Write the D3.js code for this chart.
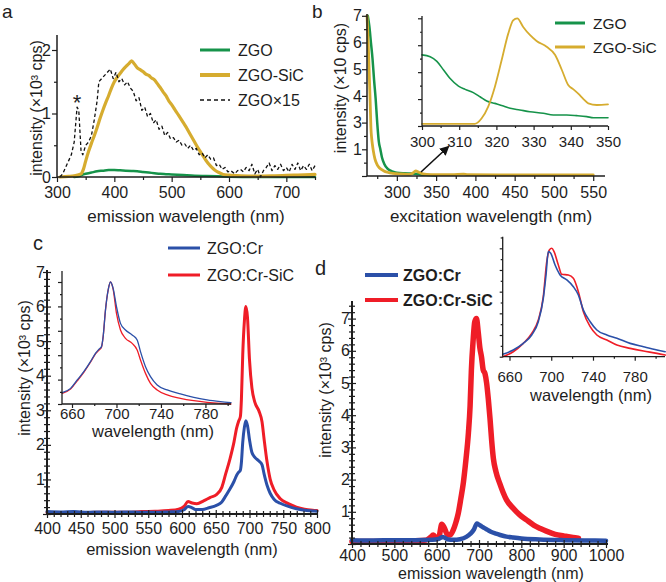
<!DOCTYPE html>
<html><head><meta charset="utf-8">
<script src="https://cdn.jsdelivr.net/npm/d3@7"></script>
<style>
body{margin:0;background:#fff}
svg{display:block}
</style>
</head><body>
<svg id="fig" width="666" height="582"></svg>
<script>
// ---------------- DATA ----------------
// panel a : emission (x10^3 cps)
const aTicksX = [300, 400, 500, 600, 700];
const aTicksY = [0, 1, 2];
const aZgo = [[330,0.0],[340,0.02],[345,0.04],[350,0.05],[360,0.07],[370,0.09],[380,0.1],[390,0.11],[400,0.11],[410,0.105],[420,0.1],[430,0.095],[440,0.09],[450,0.08],[460,0.07],[470,0.06],[480,0.05],[490,0.045],[500,0.04],[520,0.03],[540,0.02],[560,0.015],[580,0.01],[600,0.005],[650,0.0],[700,0.0],[750,0.0]];
const aZgoSic = [[305,0],[320,0.01],[330,0.02],[342,0.05],[346,0.12],[350,0.25],[355,0.4],[360,0.53],[365,0.65],[370,0.78],[375,0.92],[380,1.05],[385,1.17],[390,1.28],[395,1.4],[400,1.5],[405,1.57],[410,1.63],[415,1.69],[420,1.74],[425,1.78],[430,1.83],[435,1.78],[440,1.72],[445,1.69],[450,1.66],[455,1.62],[460,1.6],[465,1.56],[470,1.53],[475,1.47],[480,1.41],[485,1.34],[490,1.28],[495,1.2],[500,1.14],[505,1.07],[510,1.0],[515,0.93],[520,0.86],[525,0.79],[530,0.71],[535,0.63],[540,0.55],[545,0.47],[550,0.4],[555,0.33],[560,0.26],[565,0.2],[570,0.15],[575,0.11],[580,0.08],[585,0.06],[590,0.04],[600,0.03],[620,0.02],[650,0.015],[680,0.02],[700,0.025],[720,0.03],[750,0.04]];
const aZgo15 = [[305,0.0],[310,0.05],[315,0.15],[320,0.25],[325,0.35],[330,0.55],[335,1.1],[338,1.05],[342,0.4],[345,0.35],[350,0.5],[355,0.55],[360,0.65],[365,0.9],[370,1.2],[373,1.5],[378,1.55],[383,1.6],[388,1.65],[393,1.7],[398,1.55],[403,1.65],[408,1.5],[413,1.55],[418,1.45],[423,1.5],[428,1.4],[433,1.35],[438,1.2],[443,1.25],[448,1.05],[453,1.1],[458,0.95],[463,1.0],[468,0.85],[473,0.9],[478,0.75],[483,0.8],[488,0.65],[493,0.7],[498,0.6],[503,0.62],[508,0.55],[513,0.58],[518,0.5],[523,0.52],[528,0.45],[533,0.5],[538,0.42],[543,0.45],[548,0.35],[553,0.38],[558,0.3],[563,0.35],[568,0.28],[573,0.3],[578,0.18],[583,0.2],[588,0.12],[593,0.15],[598,0.08],[603,0.1],[610,0.05],[615,0.1],[620,0.12],[625,0.08],[630,0.15],[635,0.1],[640,0.2],[645,0.05],[650,0.12],[655,0.0],[660,0.1],[665,0.15],[670,0.22],[675,0.1],[680,0.18],[685,0.12],[690,0.2],[695,0.1],[700,0.15],[705,0.08],[710,0.2],[715,0.12],[720,0.22],[725,0.1],[730,0.18],[735,0.12],[740,0.2],[745,0.1],[750,0.18]];

// panel b : excitation (broken y axis)
const bTicksX = [300, 350, 400, 450, 500, 550];
const bTicksY = [0, 1, 3, 4, 5, 6, 7];
const bZgo = [[263,7.0],[265,6.6],[267,6.0],[269,5.4],[271,4.6],[273,3.9],[275,3.0],[277,1.6],[279,1.0],[281,0.7],[284,0.45],[288,0.28],[292,0.2],[296,0.15],[300,0.12],[310,0.1],[320,0.09],[330,0.06],[340,0.04],[350,0.02]];
const bZgoSic = [[262,7.0],[263,6.4],[264,5.6],[265,4.7],[266,3.8],[267,2.6],[268,1.8],[269,1.3],[270,0.95],[272,0.65],[275,0.42],[278,0.3],[283,0.2],[288,0.14],[295,0.1],[300,0.09],[315,0.06],[320,0.1],[324,0.19],[328,0.14],[333,0.08],[343,0.05],[370,0.05],[385,0.07],[390,0.05],[450,0.04],[550,0.04]];
const bInsetTicksX = [300, 310, 320, 330, 340, 350];
const bInsetZgo = [[300,0.66],[302.2,0.644],[304,0.6],[305.8,0.52],[307.5,0.443],[309.8,0.371],[311.6,0.34],[313.8,0.31],[315.6,0.272],[317.4,0.232],[319.6,0.21],[321.9,0.186],[323.7,0.164],[326.3,0.149],[329,0.133],[332.6,0.118],[335.3,0.102],[338.9,0.102],[341.6,0.096],[344.3,0.087],[346.1,0.077],[350,0.077]];
const bInsetZgoSic = [[300,0.02],[314.2,0.02],[316,0.07],[317.8,0.18],[319.6,0.365],[321.4,0.61],[323.2,0.86],[324.5,0.98],[325.6,1.0],[327.2,0.92],[329,0.845],[330.8,0.79],[333.5,0.736],[335.8,0.66],[337.6,0.52],[339.3,0.38],[340.7,0.34],[342,0.3],[343.4,0.25],[344.7,0.21],[347,0.195],[350,0.2]];

// panel c
const cTicksX = [400, 450, 500, 550, 600, 650, 700, 750, 800];
const cTicksY = [0, 1, 2, 3, 4, 5, 6, 7];
const cCr = [[400,0.07],[420,0.06],[440,0.07],[460,0.05],[480,0.06],[500,0.05],[520,0.06],[540,0.05],[560,0.05],[580,0.06],[595,0.07],[603,0.12],[609,0.22],[615,0.18],[620,0.13],[630,0.13],[640,0.18],[651,0.25],[659,0.35],[665,0.53],[671,0.72],[677,0.94],[681,1.12],[684,1.21],[686.5,1.27],[688,1.49],[690,2.08],[692.5,2.52],[694.6,2.7],[697,2.56],[700,2.15],[703.6,1.78],[708,1.64],[714,1.53],[718.6,1.42],[721.6,1.16],[726,0.83],[730.6,0.6],[736.6,0.42],[745.6,0.31],[757.5,0.22],[769.5,0.15],[781.5,0.11],[793.5,0.09],[800,0.08]];
const cCrSic = [[400,0.04],[440,0.04],[480,0.05],[520,0.05],[540,0.07],[560,0.08],[580,0.1],[595,0.14],[603,0.22],[609,0.36],[615,0.32],[622,0.3],[632,0.38],[642,0.48],[651,0.56],[659,0.77],[665,1.18],[671,1.59],[677,2.08],[681,2.49],[684,2.69],[686.5,2.82],[688,3.31],[690,4.62],[692.5,5.6],[694.6,6.0],[697,5.69],[700,4.46],[703.6,3.64],[708,3.23],[714,2.98],[718.6,2.66],[721.6,2.17],[726,1.51],[730.6,1.01],[736.6,0.69],[745.6,0.44],[757.5,0.3],[769.5,0.2],[781.5,0.14],[793.5,0.11],[800,0.1]];
const cInsetTicksX = [660, 700, 740, 780];
const cInsetCr = [[651.2,0.093],[658.7,0.128],[664.7,0.197],[670.6,0.265],[676.6,0.347],[681.1,0.415],[684.1,0.448],[686.5,0.47],[688,0.552],[690.1,0.77],[692.5,0.934],[694.6,1.0],[697,0.948],[700,0.798],[703.6,0.661],[708.1,0.607],[714.1,0.566],[718.6,0.525],[721.6,0.429],[726.1,0.306],[730.6,0.224],[736.6,0.156],[745.6,0.115],[757.5,0.082],[769.5,0.055],[781.5,0.033],[793.5,0.019],[803,0.011]];
const cInsetCrSic = [[651.2,0.088],[658.7,0.122],[664.7,0.19],[670.6,0.26],[676.6,0.342],[681.1,0.41],[684.1,0.44],[686.5,0.465],[688,0.55],[690.1,0.77],[692.5,0.934],[694.6,1.0],[697,0.94],[700,0.743],[703.6,0.607],[708.1,0.538],[714.1,0.497],[718.6,0.443],[721.6,0.361],[726.1,0.251],[730.6,0.169],[736.6,0.115],[745.6,0.074],[757.5,0.046],[769.5,0.027],[781.5,0.014],[793.5,0.005],[803,0.0]];

// panel d
const dTicksX = [400, 500, 600, 700, 800, 900, 1000];
const dTicksY = [0, 1, 2, 3, 4, 5, 6, 7];
const dCr = [[400,0.12],[450,0.11],[500,0.12],[550,0.12],[590,0.13],[605,0.16],[615,0.22],[625,0.15],[640,0.13],[655,0.15],[670,0.22],[680,0.32],[688,0.45],[695,0.64],[700,0.6],[706,0.55],[712,0.5],[720,0.44],[728,0.38],[740,0.32],[750,0.28],[765,0.23],[781,0.2],[800,0.17],[843,0.14],[900,0.12],[950,0.11],[1000,0.1]];
const dCrSic = [[400,0.08],[450,0.08],[500,0.09],[550,0.1],[575,0.12],[585,0.2],[592,0.28],[600,0.17],[606,0.25],[612,0.61],[618,0.5],[625,0.3],[632,0.28],[639,0.43],[645,0.65],[651,0.95],[657,1.4],[663,1.9],[669,2.6],[675,3.45],[679,4.3],[682,5.4],[686,6.3],[690,6.9],[694,7.0],[698,6.6],[702,6.1],[706,5.8],[710,5.4],[714,5.3],[718,5.0],[722,4.5],[726,3.9],[730,3.2],[734,2.65],[740,2.25],[749,1.88],[757,1.6],[765,1.37],[780,1.12],[795,0.92],[812,0.75],[830,0.58],[845,0.48],[859,0.4],[880,0.3],[900,0.25],[922,0.2],[935,0.18]];
const dInsetTicksX = [660, 700, 740, 780];
const dInsetCr = [[653.5,0.022],[663.6,0.062],[673.2,0.123],[681.3,0.2],[687.6,0.323],[692.4,0.539],[695,0.754],[697.2,0.969],[699.5,0.954],[703.7,0.846],[708.5,0.754],[714.9,0.708],[721.2,0.646],[726,0.569],[730.8,0.43],[737.3,0.323],[743.7,0.246],[753.3,0.2],[762.9,0.17],[775.6,0.123],[788.4,0.092],[801.3,0.062],[809.2,0.046]];
const dInsetCrSic = [[653.5,0.0],[663.6,0.046],[673.2,0.123],[681.3,0.215],[687.6,0.338],[692.4,0.554],[695.7,0.877],[698.2,0.985],[700.5,1.0],[702.7,0.969],[706.8,0.846],[710.1,0.76],[716.4,0.754],[721.2,0.723],[726,0.6],[730.8,0.415],[737.3,0.277],[743.7,0.2],[753.3,0.154],[762.9,0.108],[775.6,0.077],[788.4,0.052],[801.3,0.031],[809.2,0.015]];

// ---------------- STYLE ----------------
const FONT = '"Liberation Sans", Arial, Helvetica, sans-serif';
const GREEN = '#16934a', GOLD = '#d6ac2f', BLUE = '#2b50a8', RED = '#ef1d27', INK = '#1e1e1e';
const svg = d3.select('#fig');

function range(a, b, s) { const r = []; for (let v = a; v <= b + 1e-9; v += s) r.push(+v.toFixed(4)); return r; }

function drawLine(data, x, y, color, w, dash, curve) {
  svg.append('path').datum(data)
    .attr('d', d3.line().x(d => x(d[0])).y(d => y(d[1])).curve(curve || d3.curveMonotoneX))
    .attr('fill', 'none').attr('stroke', color).attr('stroke-width', w)
    .attr('stroke-linejoin', 'round').attr('stroke-linecap', dash ? 'butt' : 'round')
    .attr('stroke-dasharray', dash || null);
}

// generic axis: side 'bottom' | 'left'
function drawAxis(scale, side, o) {
  const bottom = side === 'bottom';
  const lw = o.lw || 1.5;
  if (bottom) svg.append('line').attr('x1', o.ext[0]).attr('x2', o.ext[1]).attr('y1', o.pos).attr('y2', o.pos)
    .attr('stroke', INK).attr('stroke-width', lw);
  else svg.append('line').attr('y1', o.ext[0]).attr('y2', o.ext[1]).attr('x1', o.pos).attr('x2', o.pos)
    .attr('stroke', INK).attr('stroke-width', lw);
  const mk = (vals, out, inn, fmt, tw) => {
    const g = svg.append('g').attr('transform', bottom ? `translate(0,${o.pos})` : `translate(${o.pos},0)`);
    const ax = (bottom ? d3.axisBottom(scale) : d3.axisLeft(scale))
      .tickValues(vals).tickSize(out).tickSizeOuter(0).tickFormat(fmt);
    g.call(ax);
    g.select('.domain').remove();
    g.attr('font-family', FONT).attr('font-size', o.fs || 16);
    g.selectAll('.tick line').attr('stroke', INK).attr('stroke-width', tw)
      .attr(bottom ? 'y1' : 'x1', bottom ? -inn : inn);
    g.selectAll('.tick text').attr('fill', INK);
    g.selectAll('.tick text').filter(function () { return this.textContent === ''; }).remove();
    if (bottom) g.selectAll('.tick text').attr('y', o.lab).attr('dy', 0);
    else g.selectAll('.tick text').attr('x', -o.lab);
    return g;
  };
  if (o.minor) mk(o.minor, o.mout || 3, o.minn || 0, () => '', o.tw || 1.2);
  mk(o.major, o.out || 5, o.inn || 0, o.fmt || (d => d), o.tw || 1.2);
}

function text(str, x, y, opts = {}) {
  const t = svg.append('text').attr('x', x).attr('y', y).text(str)
    .attr('font-family', FONT).attr('font-size', opts.fs || 17).attr('fill', INK)
    .attr('text-anchor', opts.anchor || 'start');
  if (opts.bold) t.attr('font-weight', 'bold');
  if (opts.rot) t.attr('transform', `rotate(-90,${x},${y})`).attr('dominant-baseline', 'central');
  return t;
}

function legend(items, x1, x2, tx, fs, bold) {
  items.forEach(it => {
    svg.append('line').attr('x1', x1).attr('x2', x2).attr('y1', it.y).attr('y2', it.y)
      .attr('stroke', it.color).attr('stroke-width', it.w).attr('stroke-dasharray', it.dash || null);
    text(it.label, tx, it.y + 6, { fs: fs, bold: bold });
  });
}

// ---------------- PANEL A ----------------
{
  const x = d3.scaleLinear().domain([300, 750]).range([57, 315]);
  const y = d3.scaleLinear().domain([0, 2]).range([177, 50]);
  drawLine(aZgo, x, y, GREEN, 2.5);
  drawLine(aZgoSic, x, y, GOLD, 3.2);
  drawLine(aZgo15, x, y, '#111', 1.3, '3.5,2.5', d3.curveLinear);
  drawAxis(x, 'bottom', { pos: 177, ext: [57, 315], major: aTicksX, minor: [350, 450, 550, 650, 750], out: 5, mout: 3, lab: 21, fs: 16 });
  drawAxis(y, 'left', { pos: 57, ext: [177, 35], major: aTicksY, minor: [0.5, 1.5], out: 5, mout: 3, lab: 6, fs: 16 });
  text('emission wavelength (nm)', 186, 222, { anchor: 'middle' });
  text('intensity (×10³ cps)', 36, 108, { anchor: 'middle', rot: true, fs: 16 });
  text('*', 77, 110, { anchor: 'middle', fs: 22 });
  legend([
    { y: 50, color: GREEN, w: 3, label: 'ZGO' },
    { y: 75, color: GOLD, w: 4, label: 'ZGO-SiC' },
    { y: 100, color: '#111', w: 1.5, dash: '4,3', label: 'ZGO×15' }
  ], 200, 230, 238, 16);
  text('a', 2, 18, { fs: 19 });
}

// ---------------- PANEL B ----------------
{
  const x = d3.scaleLinear().domain([262, 565]).range([367, 605]);
  const y = d3.scaleLinear().domain(bTicksY).range([176, 149.3, 122.6, 95.9, 69.2, 42.5, 15.8]);
  drawLine(bZgo, x, y, GREEN, 2.5);
  drawLine(bZgoSic, x, y, GOLD, 2.8);
  drawAxis(x, 'bottom', { pos: 176, ext: [367, 605], major: bTicksX, minor: [275, 325, 375, 425, 475, 525], out: 5, mout: 3, lab: 22, fs: 16 });
  drawAxis(y, 'left', { pos: 367, ext: [176, 14], major: bTicksY, minor: [0.5, 2, 3.5, 4.5, 5.5, 6.5], out: 5, mout: 3, lab: 5, fs: 16, fmt: d => d === 0 ? '' : d });
  text('excitation wavelength (nm)', 491, 222, { anchor: 'middle' });
  text('intensity (×10 cps)', 340, 88, { anchor: 'middle', rot: true, fs: 16 });
  // inset
  const xi = d3.scaleLinear().domain([300, 350]).range([422, 608]);
  const yi = d3.scaleLinear().domain([0, 1]).range([126, 18.3]);
  drawLine(bInsetZgo, xi, yi, GREEN, 1.6);
  drawLine(bInsetZgoSic, xi, yi, GOLD, 1.8);
  drawAxis(xi, 'bottom', { pos: 126, ext: [422, 608], major: bInsetTicksX, minor: [305, 315, 325, 335, 345], out: 4, mout: 2, lab: 21, fs: 15, lw: 1.3 });
  drawAxis(yi, 'left', { pos: 422, ext: [126, 16], major: [0, 0.25, 0.5, 0.75, 1], minor: [0.125, 0.375, 0.625, 0.875], out: 4, mout: 2, lab: 6, fs: 15, lw: 1.3, fmt: () => '' });
  // arrow
  const defs = svg.append('defs');
  defs.append('marker').attr('id', 'arr').attr('viewBox', '0 0 10 10').attr('refX', 8).attr('refY', 5)
    .attr('markerWidth', 6).attr('markerHeight', 6).attr('orient', 'auto')
    .append('path').attr('d', 'M0,0 L10,5 L0,10 z').attr('fill', '#111');
  svg.append('line').attr('x1', 421).attr('y1', 172).attr('x2', 448).attr('y2', 147)
    .attr('stroke', '#111').attr('stroke-width', 1.6).attr('marker-end', 'url(#arr)');
  legend([
    { y: 23, color: GREEN, w: 3, label: 'ZGO' },
    { y: 47, color: GOLD, w: 3, label: 'ZGO-SiC' }
  ], 555, 585, 593, 15.5);
  text('b', 312, 18, { fs: 19 });
}

// ---------------- PANEL C ----------------
{
  const x = d3.scaleLinear().domain([400, 800]).range([47, 317]);
  const y = d3.scaleLinear().domain([0, 7]).range([514, 272]);
  drawLine(cCrSic, x, y, RED, 3);
  drawLine(cCr, x, y, BLUE, 3);
  drawAxis(x, 'bottom', { pos: 514, ext: [47, 317], major: cTicksX, minor: range(410, 790, 10).filter(v => v % 50 !== 0), out: 4, inn: 4, mout: 3, minn: 3, lab: 20, fs: 16, lw: 2 });
  drawAxis(y, 'left', { pos: 47, ext: [514, 270], major: cTicksY, minor: range(0.2, 6.8, 0.2).filter(v => Math.abs(v - Math.round(v)) > 0.01), out: 4, inn: 4, mout: 3, minn: 3, lab: 2, fs: 16, lw: 2, fmt: d => d === 0 ? '' : d });
  text('emission wavelength (nm)', 182, 554.5, { anchor: 'middle', fs: 16.5 });
  text('intensity (×10³ cps)', 24, 368, { anchor: 'middle', rot: true, fs: 16 });
  // inset
  const xi = d3.scaleLinear().domain([651, 803]).range([62, 231]);
  const yi = d3.scaleLinear().domain([0, 1]).range([404, 282]);
  drawLine(cInsetCrSic, xi, yi, RED, 1.3);
  drawLine(cInsetCr, xi, yi, BLUE, 1.3);
  drawAxis(xi, 'bottom', { pos: 404, ext: [62, 231], major: cInsetTicksX, minor: [680, 720, 760, 800], out: 4, mout: 2, lab: 15, fs: 15, lw: 1.3 });
  drawAxis(yi, 'left', { pos: 62, ext: [404, 271], major: [0, 0.2, 0.4, 0.6, 0.8, 1], minor: [0.1, 0.3, 0.5, 0.7, 0.9], out: 4, mout: 2, lab: 6, fs: 15, lw: 1.3, fmt: () => '' });
  text('wavelength (nm)', 153, 437, { anchor: 'middle', fs: 16.5 });
  legend([
    { y: 248, color: BLUE, w: 3, label: 'ZGO:Cr' },
    { y: 275, color: RED, w: 3, label: 'ZGO:Cr-SiC' }
  ], 168, 200, 207, 16);
  text('c', 33, 250, { fs: 20 });
}

// ---------------- PANEL D ----------------
{
  const x = d3.scaleLinear().domain([400, 1000]).range([352, 606]);
  const y = d3.scaleLinear().domain([0, 7.5]).range([544, 302.5]);
  drawLine(dCrSic, x, y, RED, 5.5);
  drawLine(dCr, x, y, BLUE, 4.5);
  drawAxis(x, 'bottom', { pos: 544, ext: [352, 608], major: dTicksX, minor: range(420, 980, 20).filter(v => v % 100 !== 0), out: 4, inn: 4, mout: 3, minn: 3, lab: 16.5, fs: 16, lw: 2 });
  drawAxis(y, 'left', { pos: 352, ext: [544, 301], major: dTicksY, minor: range(0.2, 7.4, 0.2).filter(v => Math.abs(v - Math.round(v)) > 0.01), out: 4, inn: 4, mout: 3, minn: 3, lab: 2, fs: 16, lw: 2, fmt: d => d === 0 ? '' : d });
  text('emission wavelength (nm)', 491, 578.5, { anchor: 'middle', fs: 16 });
  text('intensity (×10³ cps)', 325, 390, { anchor: 'middle', rot: true, fs: 16 });
  // inset
  const xi = d3.scaleLinear().domain([653.5, 809]).range([502.7, 665]);
  const yi = d3.scaleLinear().domain([0, 1]).range([356.7, 248.3]);
  drawLine(dInsetCrSic, xi, yi, RED, 1.6);
  drawLine(dInsetCr, xi, yi, BLUE, 1.6);
  drawAxis(xi, 'bottom', { pos: 356.7, ext: [502.7, 665], major: dInsetTicksX, minor: [680, 720, 760, 800], out: 4, mout: 2, lab: 25, fs: 15, lw: 1.3 });
  drawAxis(yi, 'left', { pos: 502.7, ext: [356.7, 236.7], major: range(0, 1, 0.2), minor: [0.1, 0.3, 0.5, 0.7, 0.9, 1.1], out: 3, mout: 2, lab: 6, fs: 15, lw: 1.3, fmt: () => '' });
  text('wavelength (nm)', 591, 401, { anchor: 'middle', fs: 16.5 });
  legend([
    { y: 275, color: BLUE, w: 4, label: 'ZGO:Cr' },
    { y: 300, color: RED, w: 4, label: 'ZGO:Cr-SiC' }
  ], 365, 398, 403, 16, true);
  text('d', 315, 275, { fs: 20 });
}
</script>
</body></html>
